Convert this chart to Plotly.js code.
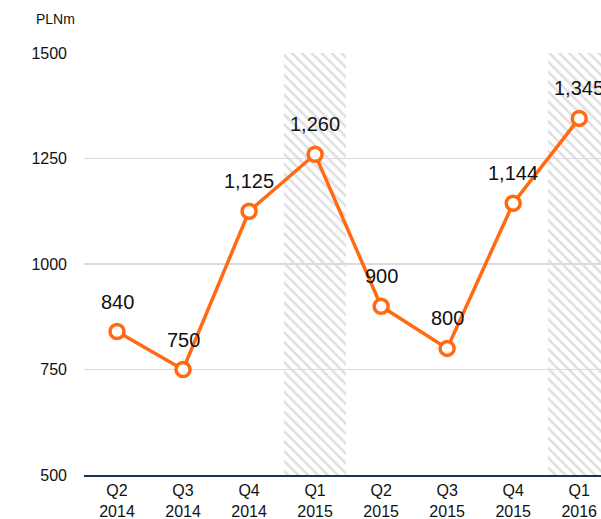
<!DOCTYPE html>
<html><head><meta charset="utf-8">
<script src="https://cdn.plot.ly/plotly-3.0.1.min.js"></script>
<style>html,body{margin:0;padding:0;background:#fff}#chart{width:601px;height:519px}</style>
</head><body><div id="chart"></div>
<script>
const categories = ["Q2<br>2014","Q3<br>2014","Q4<br>2014","Q1<br>2015","Q2<br>2015","Q3<br>2015","Q4<br>2015","Q1<br>2016"];
const values = [840, 750, 1125, 1260, 900, 800, 1144, 1345];
const valueLabels = ["840","750","1,125","1,260","900","800","1,144","1,345"];
const shadedCategories = ["Q1<br>2015","Q1<br>2016"];
const yTicks = [500, 750, 1000, 1250, 1500];
const unitLabel = "PLNm";

const yMin = yTicks[0], yMax = yTicks[yTicks.length - 1];
const orange = "#FF6A13";
const font = "Liberation Sans, Arial, sans-serif";

const shade = {
  type: "bar", x: shadedCategories, y: shadedCategories.map(() => yMax - yMin),
  base: shadedCategories.map(() => yMin),
  width: 0.94, hoverinfo: "skip", showlegend: false,
  marker: { color: "rgba(0,0,0,0)", line: { width: 0 },
    pattern: { shape: "\\", fgcolor: "#dedede", bgcolor: "rgba(0,0,0,0)", size: 7, solidity: 0.35 } }
};
const line = {
  type: "scatter", mode: "lines+markers", x: categories, y: values, showlegend: false,
  line: { color: orange, width: 3.5 },
  marker: { symbol: "circle", size: 14, color: "#ffffff", line: { color: orange, width: 3.5 } }
};

const annotations = values.map((v, i) => ({
  x: categories[i], y: v, xref: "x", yref: "y", text: valueLabels[i], showarrow: false,
  yshift: 30, font: { family: font, size: 20, color: "#111" }
}));
annotations.push({ xref: "paper", yref: "paper", x: -0.056, y: 1.0, yshift: 24, xanchor: "center",
  yanchor: "bottom", text: unitLabel, showarrow: false, font: { family: font, size: 14, color: "#111" } });

const layout = {
  width: 601, height: 519,
  margin: { l: 84, r: 0, t: 53, b: 44, pad: 0 },
  paper_bgcolor: "#fff", plot_bgcolor: "#fff",
  font: { family: font, color: "#111" },
  barmode: "overlay",
  xaxis: { type: "category", categoryorder: "array", categoryarray: categories,
    range: [-0.5, 7.33], showgrid: false, showline: true, linecolor: "#1f2d5c", linewidth: 2,
    ticks: "", tickfont: { family: font, size: 16, color: "#111" }, fixedrange: true },
  yaxis: { range: [yMin, yMax], tickvals: yTicks, ticktext: yTicks.map(String),
    showgrid: true, gridcolor: "#d9d9d9", gridwidth: 1.5, zeroline: false, showline: false,
    ticks: "", ticklabelstandoff: 16, tickfont: { family: font, size: 16, color: "#111" } },
  annotations: annotations,
  bargap: 0
};
Plotly.newPlot("chart", [shade, line], layout, { displayModeBar: false, staticPlot: true });
</script></body></html>
